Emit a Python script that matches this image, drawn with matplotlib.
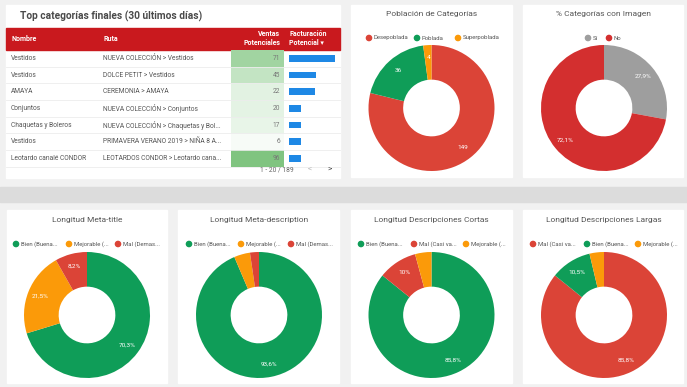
import matplotlib.pyplot as plt
from matplotlib.patches import Rectangle, Circle

plt.rcParams['font.family'] = ['Roboto', 'DejaVu Sans']

W, H = 687, 387

# --- table data ---
nombres = ['Vestidos', 'Vestidos', 'AMAYA', 'Conjuntos', 'Chaquetas y Boleros',
           'Vestidos', 'Leotardo canalé CONDOR']
rutas = ['NUEVA COLECCIÓN > Vestidos', 'DOLCE PETIT > Vestidos', 'CEREMONIA > AMAYA',
         'NUEVA COLECCIÓN > Conjuntos', 'NUEVA COLECCIÓN > Chaquetas y Bol...',
         'PRIMAVERA VERANO 2019 > NIÑA 8 A...', 'LEOTARDOS CONDOR > Leotardo cana...']
ventas = [71, 45, 22, 20, 17, 6, 96]
facturacion = [100, 59, 57, 26, 26, 26, 26]   # relative bar length

# --- donut data ---
pob_labels = ['Desepoblada', 'Poblada', 'Superpoblada']
pob_values = [149, 36, 4]
img_labels = ['Sí', 'No']
img_values = [27.9, 72.1]
mtitle_labels = ['Bien (Buena...', 'Mejorable (...', 'Mal (Demas...']
mtitle_values = [70.3, 21.5, 8.2]
mdesc_labels = ['Bien (Buena...', 'Mejorable (...', 'Mal (Demas...']
mdesc_values = [93.6, 4.1, 2.3]
cortas_labels = ['Bien (Buena...', 'Mal (Casi va...', 'Mejorable (...']
cortas_values = [85.8, 10.0, 4.2]
largas_labels = ['Mal (Casi va...', 'Bien (Buena...', 'Mejorable (...']
largas_values = [85.8, 10.5, 3.7]

RED = '#db4437'
GREEN = '#0f9d58'
ORANGE = '#fb9a09'
GRAY = '#9e9e9e'
DRED = '#d32f2f'
TXT = '#555555'

fig = plt.figure(figsize=(W / 100, H / 100), dpi=100)
bg = fig.add_axes([0, 0, 1, 1])
bg.set_xlim(0, W)
bg.set_ylim(H, 0)
bg.axis('off')

# background + panels
bg.add_patch(Rectangle((0, 0), W, H, color='#f1f1f1'))
bg.add_patch(Rectangle((0, 187), W, 15, color='#dcdcdc'))
panels = [(6, 5, 340, 178), (351, 5, 512, 177), (523, 5, 683, 177),
          (7, 210, 167, 383), (178, 210, 339, 383), (351, 210, 512, 383), (523, 210, 683, 383)]
for x0, y0, x1, y1 in panels:
    bg.add_patch(Rectangle((x0, y0), x1 - x0, y1 - y0, color='white'))

# --- table ---
bg.text(20, 16, 'Top categorías finales (30 últimos días)', fontsize=7.3,
        weight='bold', color='#4a4a4a', va='center')
bg.add_patch(Rectangle((6, 28), 334, 22, color='#c9191e'))
hk = dict(color='white', fontsize=5, weight='bold', va='center')
bg.text(11, 39, 'Nombre', **hk)
bg.text(103, 39, 'Ruta', **hk)
bg.text(280, 34.5, 'Ventas', ha='right', **hk)
bg.text(280, 43, 'Potenciales', ha='right', **hk)
bg.text(289, 34.5, 'Facturación', **hk)
bg.text(289, 43, 'Potencial ▾', **hk)

row_h = 16.67
vmax = max(ventas)
fmax = max(facturacion)
for i, (n, r, v, f) in enumerate(zip(nombres, rutas, ventas, facturacion)):
    top = 50 + i * row_h
    yc = top + row_h / 2
    t = v / vmax
    col = (1 - t * 0.5, 1 - t * 0.23, 1 - t * 0.5)
    bg.add_patch(Rectangle((231, top), 53, row_h, color=col, lw=0))
    bg.plot([6, 340], [top + row_h, top + row_h], color='#ececec', lw=0.6)
    bg.text(11, yc, n, fontsize=4.8, color=TXT, va='center')
    bg.text(103, yc, r, fontsize=4.8, color=TXT, va='center')
    bg.text(280, yc, str(v), fontsize=4.8, color='#777777', va='center', ha='right')
    bg.add_patch(Rectangle((289, yc - 3.3), 46 * f / fmax, 6.6, color='#1e88e5', lw=0))

bg.text(294, 170, '1 - 20 / 189', fontsize=4.8, color='#666666', va='center', ha='right')
bg.text(310, 170, '<', fontsize=6, color='#bbbbbb', va='center', ha='center')
bg.text(330, 170, '>', fontsize=6, color='#444444', va='center', ha='center')


# --- donuts ---
def donut(cx, cy, title, labels, values, colors, legend_x, fmt, ty, ly, thresh=0):
    r = 63
    bg.text(cx, ty, title, fontsize=6, color=TXT, ha='center', va='center')
    for lx, lab, c in zip(legend_x, labels, colors):
        bg.add_patch(Circle((lx, ly), 2.6, color=c))
        bg.text(lx + 5, ly, lab, fontsize=4.3, color=TXT, va='center')
    ax = fig.add_axes([(cx - r) / W, 1 - (cy + r) / H, 2 * r / W, 2 * r / H])
    total = sum(values)
    ax.pie(values, colors=colors, startangle=90, counterclock=False, radius=1,
           wedgeprops=dict(width=0.55, linewidth=0),
           autopct=lambda p: fmt(p, total) if p >= thresh else '',
           pctdistance=0.8, textprops=dict(color='white', fontsize=4.6))
    ax.set_xlim(-1, 1)
    ax.set_ylim(-1, 1)
    ax.set_aspect('equal')
    ax.axis('off')


def pct(p, total):
    s = '%.1f' % p
    if s.endswith('.0'):
        s = s[:-2]
    return s.replace('.', ',') + '%'


def count(p, total):
    return '%d' % round(p * total / 100)


donut(431.5, 108, 'Población de Categorías', pob_labels, pob_values,
      [RED, GREEN, ORANGE], [369, 417, 458], count, 14, 38)
donut(604, 108, '% Categorías con Imagen', img_labels, img_values,
      [GRAY, DRED], [588, 609], pct, 14, 38)
donut(87, 315, 'Longitud Meta-title', mtitle_labels, mtitle_values,
      [GREEN, ORANGE, RED], [16, 69, 118], pct, 220, 244, 5)
donut(259, 315, 'Longitud Meta-description', mdesc_labels, mdesc_values,
      [GREEN, ORANGE, RED], [189, 241, 291], pct, 220, 244, 5)
donut(431.5, 315, 'Longitud Descripciones Cortas', cortas_labels, cortas_values,
      [GREEN, RED, ORANGE], [361, 414, 466], pct, 220, 244, 5)
donut(604, 315, 'Longitud Descripciones Largas', largas_labels, largas_values,
      [RED, GREEN, ORANGE], [533, 587, 638], pct, 220, 244, 5)

fig.savefig('out.png', dpi=100)
